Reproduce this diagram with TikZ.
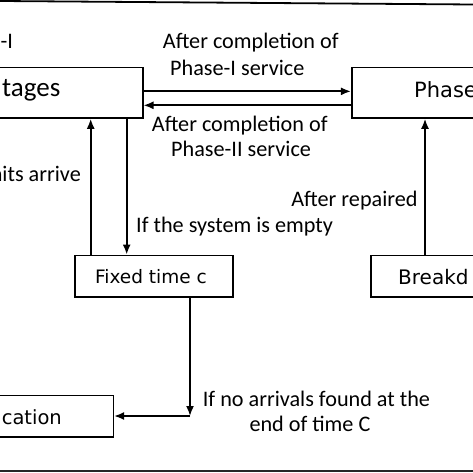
\documentclass[tikz,border=0pt]{standalone}
\usepackage{fontspec}
\setmainfont{Carlito}
\newfontfamily\dv{DejaVu Sans}
\usetikzlibrary{arrows.meta}
\begin{document}
\begin{tikzpicture}[x=1pt,y=-1pt,
  box/.style={draw,line width=1.6pt,inner sep=0pt,minimum width=#1},
  lbl/.style={inner sep=0pt,font=\fontsize{22.2}{26}\selectfont},
  arr/.style={line width=1.7pt,-{Latex[length=10pt,width=8pt]}}]
\useasboundingbox (0,0) rectangle (473,473);
\clip (0,0) rectangle (473,473);
\fill[white] (0,0) rectangle (473,473);
% frame lines
\draw[line width=1.8pt] (0,1) -- (473,4.5);
\draw[line width=2.2pt,black!85] (0,471) -- (473,471);
% boxes
\node[box=202.7pt,minimum height=50.3pt] (b1) at (41.35,92.85) {};
\node[box=208.3pt,minimum height=50.3pt] (b2) at (455.85,92.85) {};
\node[box=157.7pt,minimum height=41.7pt] (fx) at (153.85,276.15) {};
\node[box=189pt,minimum height=41.7pt] (bk) at (465.5,276.15) {};
\node[box=193.3pt,minimum height=41.4pt] (ca) at (16.65,416) {};
% box texts
\node[lbl,anchor=base west,font=\fontsize{27}{30}\selectfont] (t1) at (2,96.7) {tages};
\node[lbl,anchor=base west,font=\dv\fontsize{21}{24}\selectfont] (t2) at (414,97.7) {Phase};
\node[lbl,anchor=base,font=\dv\fontsize{18.5}{22}\selectfont] (t3) at (151,283.3) {Fixed time c};
\node[lbl,anchor=base east,font=\dv\fontsize{19.5}{22}\selectfont] (t4) at (62,424.7) {cation};
\node[lbl,anchor=base west,font=\dv\fontsize{20}{22}\selectfont] (t5) at (398,284) {Breakd};
% helper coordinates
\coordinate (xa) at (90.7,0);
\coordinate (xb) at (126.7,0);
\coordinate (xc) at (190,0);
\coordinate (xd) at (425,0);
\coordinate (k) at (190,416);
% connectors
\draw[arr] ([yshift=1.5pt]b1.east) -- ([yshift=1.5pt]b2.west);
\draw[arr] ([yshift=-12.45pt]b2.west) -- ([yshift=-12.45pt]b1.east);
\draw[arr] (xa |- fx.north) -- (xa |- b1.south);
\draw[arr] (xb |- b1.south) -- (xb |- fx.north);
\draw[arr] (xc |- fx.south) -- (k);
\draw[arr] (k) -- (ca.east);
\draw[arr] (xd |- bk.north) -- (xd |- b2.south);
% labels
\node[lbl,anchor=base west] (l0) at (0.5,48.5) {-I};
\node[lbl,anchor=base west] (l1) at (162.7,48.5) {After completion of};
\node[lbl,anchor=base west] (l2) at (170,76) {Phase-I service};
\node[lbl,anchor=base west] (l3) at (151.7,131.7) {After completion of};
\node[lbl,anchor=base west] (l4) at (171,156.7) {Phase-II service};
\node[lbl,anchor=base east] (l5) at (81,181.7) {nits arrive};
\node[lbl,anchor=base east] (l6) at (417.7,206.7) {After repaired};
\node[lbl,anchor=base west] (l7) at (136,232.7) {If the system is empty};
\node[lbl,anchor=base west] (l8) at (202.7,406.7) {If no arrivals found at the};
\node[lbl,anchor=base west] (l9) at (249.3,431.7) {end of time C};
\end{tikzpicture}
\end{document}
